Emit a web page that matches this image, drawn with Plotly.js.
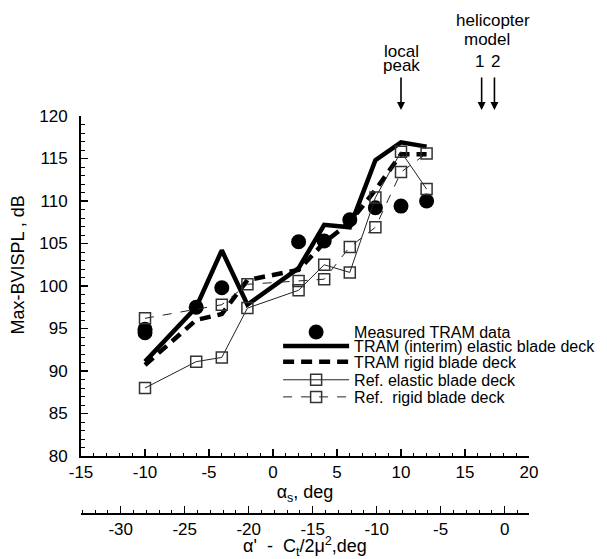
<!DOCTYPE html>
<html>
<head>
<meta charset="utf-8">
<script src="https://cdn.plot.ly/plotly-3.0.1.min.js"></script>
<style>body{margin:0;background:#fff}#chart{width:607px;height:559px}</style>
</head>
<body>
<div id="chart"></div>
<script>
// Data (alpha_s in deg, Max-BVISPL in dB)
const measX = [-10, -10, -6, -4, 2, 4, 6, 8, 10, 12];
const measY = [94.9, 94.5, 97.5, 99.8, 105.2, 105.3, 107.8, 109.2, 109.4, 110.0];

const tramElasticX = [-10, -6, -4, -2, 2, 4, 6, 8, 10, 12];
const tramElasticY = [91.1, 97.5, 104.2, 97.8, 102.1, 107.2, 106.9, 114.8, 116.9, 116.4];

const tramRigidX = [-10, -6, -4, -2, 2, 4, 6, 8, 10, 12];
const tramRigidY = [90.7, 96.0, 96.7, 100.7, 101.9, 105.1, 107.5, 111.3, 115.5, 115.5];

const refElasticX = [-10, -6, -4, -2, 2, 4, 6, 8, 10, 12];
const refElasticY = [88.0, 91.1, 91.6, 97.4, 99.5, 102.5, 101.6, 110.4, 115.8, 111.4];

const refRigidX = [-10, -4, -2, 2, 4, 6, 8, 10, 12];
const refRigidY = [96.2, 97.8, 100.2, 100.6, 100.8, 104.6, 106.9, 113.4, 115.6];

const seriesNames = [
  "Measured TRAM data",
  "TRAM (interim) elastic blade deck",
  "TRAM rigid blade deck",
  "Ref. elastic blade deck",
  "Ref.\u00a0 rigid blade deck"
];

// primary x ticks
const xTickVals = [-15, -10, -5, 0, 5, 10, 15, 20];
const xTickText = ["-15", "-10", "-5", "0", "5", "10", "15", "20"];
// y ticks
const yTickVals = [80, 85, 90, 95, 100, 105, 110, 115, 120];
// secondary axis: alpha' - Ct/2mu^2 tick values
const secTicks = [-30, -25, -20, -15, -10, -5, 0];
const secTickText = ["-30", "-25", "-20", "-15", "-10", "-5", "0"];
const secOffset = 18.1; // alpha' - Ct/2mu^2 = alpha_s - offset

// marker annotations (alpha_s positions)
const arrowX = [10, 16.3, 17.3];
const arrowLabels = ["1", "2"];

const FONT = "Liberation Sans, Arial, Helvetica, sans-serif";
const xRange = [-15, 20];

const legendIds = ["legend", "legend2", "legend3", "legend4", "legend5"];
const legendRowY = [0.457, 0.422, 0.382, 0.337, 0.294];

const traces = [
  {x: measX, y: measY, name: seriesNames[0], mode: "markers", legend: legendIds[0],
   marker: {symbol: "circle", size: 15, color: "#000"}},
  {x: tramElasticX, y: tramElasticY, name: seriesNames[1], mode: "lines", legend: legendIds[1],
   line: {color: "#000", width: 4.5}},
  {x: tramRigidX, y: tramRigidY, name: seriesNames[2], mode: "lines", legend: legendIds[2],
   line: {color: "#000", width: 4.5, dash: "11px,7px"}},
  {x: refElasticX, y: refElasticY, name: seriesNames[3], mode: "lines+markers", legend: legendIds[3],
   line: {color: "#222", width: 1},
   marker: {symbol: "square-open", size: 11, color: "#333", line: {width: 1.5}}},
  {x: refRigidX, y: refRigidY, name: seriesNames[4], mode: "lines+markers", legend: legendIds[4],
   line: {color: "#222", width: 1, dash: "9px,9px"},
   marker: {symbol: "square-open", size: 11, color: "#333", line: {width: 1.5}}},
  {x: secTicks, y: secTicks.map(() => null), xaxis: "x2", yaxis: "y",
   mode: "markers", showlegend: false, hoverinfo: "skip"}
];

const txt = (text, xref, x, y, extra) => Object.assign({
  text: text, xref: xref, yref: "paper", x: x, y: y, xanchor: "center", yanchor: "middle",
  showarrow: false, font: {size: 17, color: "#000", family: FONT}
}, extra || {});

const annotations = [
  txt("Max-BVISPL , dB", "paper", -0.14, 0.625, {textangle: -90, font: {size: 18, color: "#000", family: FONT}}),
  txt("local", "x", arrowX[0], 1.163),
  txt("peak", "x", arrowX[0], 1.128),
  txt("helicopter", "x", (arrowX[1] + arrowX[2]) / 2 + 0.4, 1.241),
  txt("model", "x", (arrowX[1] + arrowX[2]) / 2 - 0.1, 1.193),
  txt(arrowLabels[0], "x", arrowX[1] - 0.15, 1.138),
  txt(arrowLabels[1], "x", arrowX[2] + 0.1, 1.138)
];
arrowX.forEach(ax => annotations.push({
  text: "", xref: "x", yref: "paper", x: ax, y: 1.015, ax: 0, ay: -34,
  showarrow: true, arrowhead: 2, arrowsize: 1, arrowwidth: 1.6, arrowcolor: "#000"
}));

const tickFont = {size: 17, color: "#000", family: FONT};

const layout = {
  width: 607, height: 559,
  margin: {l: 81, r: 78, t: 116, b: 45, autoexpand: false},
  paper_bgcolor: "#fff", plot_bgcolor: "rgba(0,0,0,0)",
  font: {family: FONT, color: "#000"},
  showlegend: true,
  xaxis: {range: xRange, anchor: "y", showline: true, linecolor: "#000", linewidth: 2,
          ticks: "inside", ticklen: 7, tickwidth: 1.5, tickcolor: "#000",
          tickmode: "array", tickvals: xTickVals, ticktext: xTickText, automargin: false,
          minor: {ticks: "inside", ticklen: 3.5, dtick: 1, tick0: 0, tickcolor: "#000", tickwidth: 1},
          showgrid: false, zeroline: false, tickfont: tickFont,
          title: {text: "α<sub>s</sub>, deg", font: {size: 18, color: "#000", family: FONT}, standoff: 3}},
  xaxis2: {range: [xRange[0] - secOffset, xRange[1] - secOffset], overlaying: "x", anchor: "free", position: 0,
           side: "bottom", showline: true, linecolor: "#000", linewidth: 2, automargin: false,
           ticks: "inside", ticklen: 7, tickwidth: 1.5, tickcolor: "#000",
           tickmode: "array", tickvals: secTicks, ticktext: secTickText,
           minor: {ticks: "inside", ticklen: 3.5, dtick: 1, tick0: 0, tickcolor: "#000", tickwidth: 1},
           showgrid: false, zeroline: false, tickfont: tickFont,
           title: {text: "α'\u00a0 -\u00a0 C<sub>t</sub>/2μ<sup>2</sup>,deg", font: {size: 18, color: "#000", family: FONT}, standoff: 2}},
  yaxis: {range: [80, 120], domain: [0.1457, 1], showline: true, linecolor: "#000", linewidth: 2,
          ticks: "inside", ticklen: 7, tickwidth: 1.5, tickcolor: "#000", automargin: false,
          tickmode: "array", tickvals: yTickVals, ticklabelstandoff: 8,
          minor: {ticks: "inside", ticklen: 3.5, dtick: 1, tick0: 80, tickcolor: "#000", tickwidth: 1},
          showgrid: false, zeroline: false, tickfont: tickFont},
  annotations: annotations
};
legendIds.forEach((id, i) => {
  layout[id] = {x: 0.44, y: legendRowY[i], xanchor: "left", yanchor: "middle",
                bgcolor: "rgba(0,0,0,0)", font: {size: 16, color: "#000", family: FONT},
                itemwidth: 66, borderwidth: 0};
});

Plotly.newPlot("chart", traces, layout, {displayModeBar: false, staticPlot: true});
</script>
</body>
</html>
